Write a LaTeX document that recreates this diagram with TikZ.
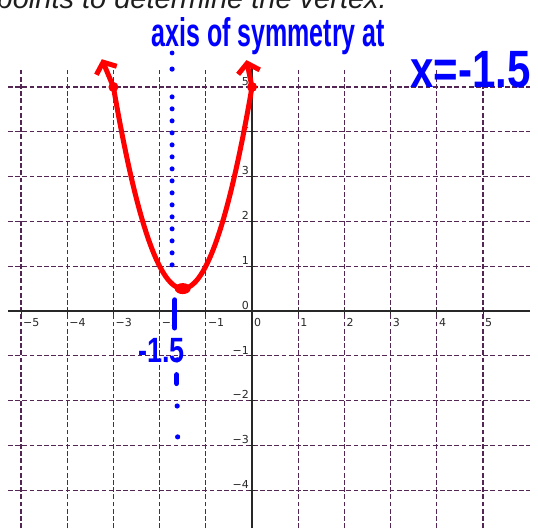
\documentclass[tikz,border=0pt]{standalone}
\usepackage{fontspec}
\usetikzlibrary{arrows.meta}
\newfontfamily\tickfont{DejaVu Sans}
\newfontfamily\printfont{Liberation Sans}
\definecolor{GridPurple}{RGB}{84,38,84}
\definecolor{AxisGray}{RGB}{40,40,40}
\definecolor{InkRed}{RGB}{255,0,0}
\definecolor{InkBlue}{RGB}{0,0,255}
\definecolor{PrintGray}{RGB}{30,30,30}

\begin{document}
\begin{tikzpicture}[x=46.2pt,y=44.8pt,
    gridline/.style={GridPurple,line width=1.3pt,dash pattern=on 4.8pt off 2.4pt},
    axisline/.style={AxisGray,line width=1.5pt},
    xlab/.style={anchor=north west,inner sep=0pt,xshift=2pt,yshift=-7.5pt,AxisGray,font=\tickfont\fontsize{11}{13}\selectfont},
    ylab/.style={anchor=south east,inner sep=0pt,xshift=-3pt,yshift=1.5pt,AxisGray,font=\tickfont\fontsize{11}{13}\selectfont},
    redpen/.style={InkRed,line width=5pt,line cap=round,line join=round},
    bluedots/.style={InkBlue,line width=5pt,line cap=round,dash pattern=on 0pt off 12pt},
    pen/.style={InkBlue,inner sep=0pt,font=\printfont\bfseries}]
      \useasboundingbox (-5.455,-4.844) rectangle (6.190,6.942);
      % grid
      \foreach \k in {-5,-4,-3,-2,-1,1,2,3,4,5}
        \draw[gridline] (\k,-4.844) -- (\k,5.42);
      \foreach \k in {-4,-3,-2,-1,1,2,3,4,5}
        \draw[gridline] (-5.28,\k) -- (6.02,\k);
      % axes
      \draw[axisline] (-5.28,0) -- (6.02,0);
      \draw[axisline] (0,-4.844) -- (0,5.42);
      \foreach \k in {-5,...,5}
        \draw[axisline,line width=1pt] (\k,0) ++(0,-3pt) -- ++(0,6pt);
      \foreach \k in {-4,...,5}
        \draw[axisline,line width=1pt] (0,\k) ++(-3pt,0) -- ++(6pt,0);
      \foreach \k in {-5,...,5}
        \node[xlab] (xl\k) at (\k,0) {\ifnum\k<0 −\the\numexpr-\k\relax\else\k\fi};
      \foreach \k in {-4,...,5}
        \node[ylab] (yl\k) at (0,\k) {\ifnum\k<0 −\the\numexpr-\k\relax\else\k\fi};
      % parabola
      \draw[redpen,{Straight Barb[length=9pt,width=22pt]}-{Straight Barb[length=9pt,width=22pt]}]
        (-3.25,5.62) -- plot[domain=-3:0,samples=60] (\x,{2*(\x+1.5)*(\x+1.5)+0.5}) -- (-0.12,5.6);
      \coordinate (left) at (-3,5);
      \coordinate (right) at (0,5);
      \coordinate (vertex) at (-1.5,0.5);
      \fill[InkRed] (left) circle (5pt);
      \fill[InkRed] (right) circle (5pt);
      \fill[InkRed] (vertex) ellipse (8pt and 5.5pt);
      % axis of symmetry
      \fill[InkBlue] (-1.73,5.76) circle (2.4pt);
      \fill[InkBlue] (-1.73,5.40) circle (2.6pt);
      \draw[bluedots] (-1.73,4.78) -- (-1.73,0.90);
      \draw[InkBlue,line width=5pt,line cap=round] (-1.67,0.25) -- (-1.67,-0.38);
      \fill[InkBlue] (-1.62,-1.09) circle (2.6pt);
      \draw[InkBlue,line width=5pt,line cap=round] (-1.63,-1.42) -- (-1.63,-1.62);
      \fill[InkBlue] (-1.62,-2.12) circle (2.6pt);
      \fill[InkBlue] (-1.61,-2.81) circle (2.6pt);
      % notes
      \node[anchor=base east,inner sep=0pt,PrintGray] (task) at (2.922,6.763)
        {\printfont\itshape\fontsize{29}{32}\selectfont points to determine the vertex.};
      \node[pen,anchor=base] (axisnote) at (0.35,5.9)
        {\scalebox{1}[1.6]{\fontsize{25}{28}\selectfont axis of symmetry at}};
      \node[pen,anchor=base west] (xnote) at (3.42,4.98)
        {\scalebox{1}[1.25]{\fontsize{42}{46}\selectfont x=-1.5}};
      \node[pen,anchor=base west] (hnote) at (-2.47,-1.14)
        {\scalebox{1}[1.3]{\fontsize{27}{30}\selectfont -1.5}};
    \end{tikzpicture}
\end{document}
